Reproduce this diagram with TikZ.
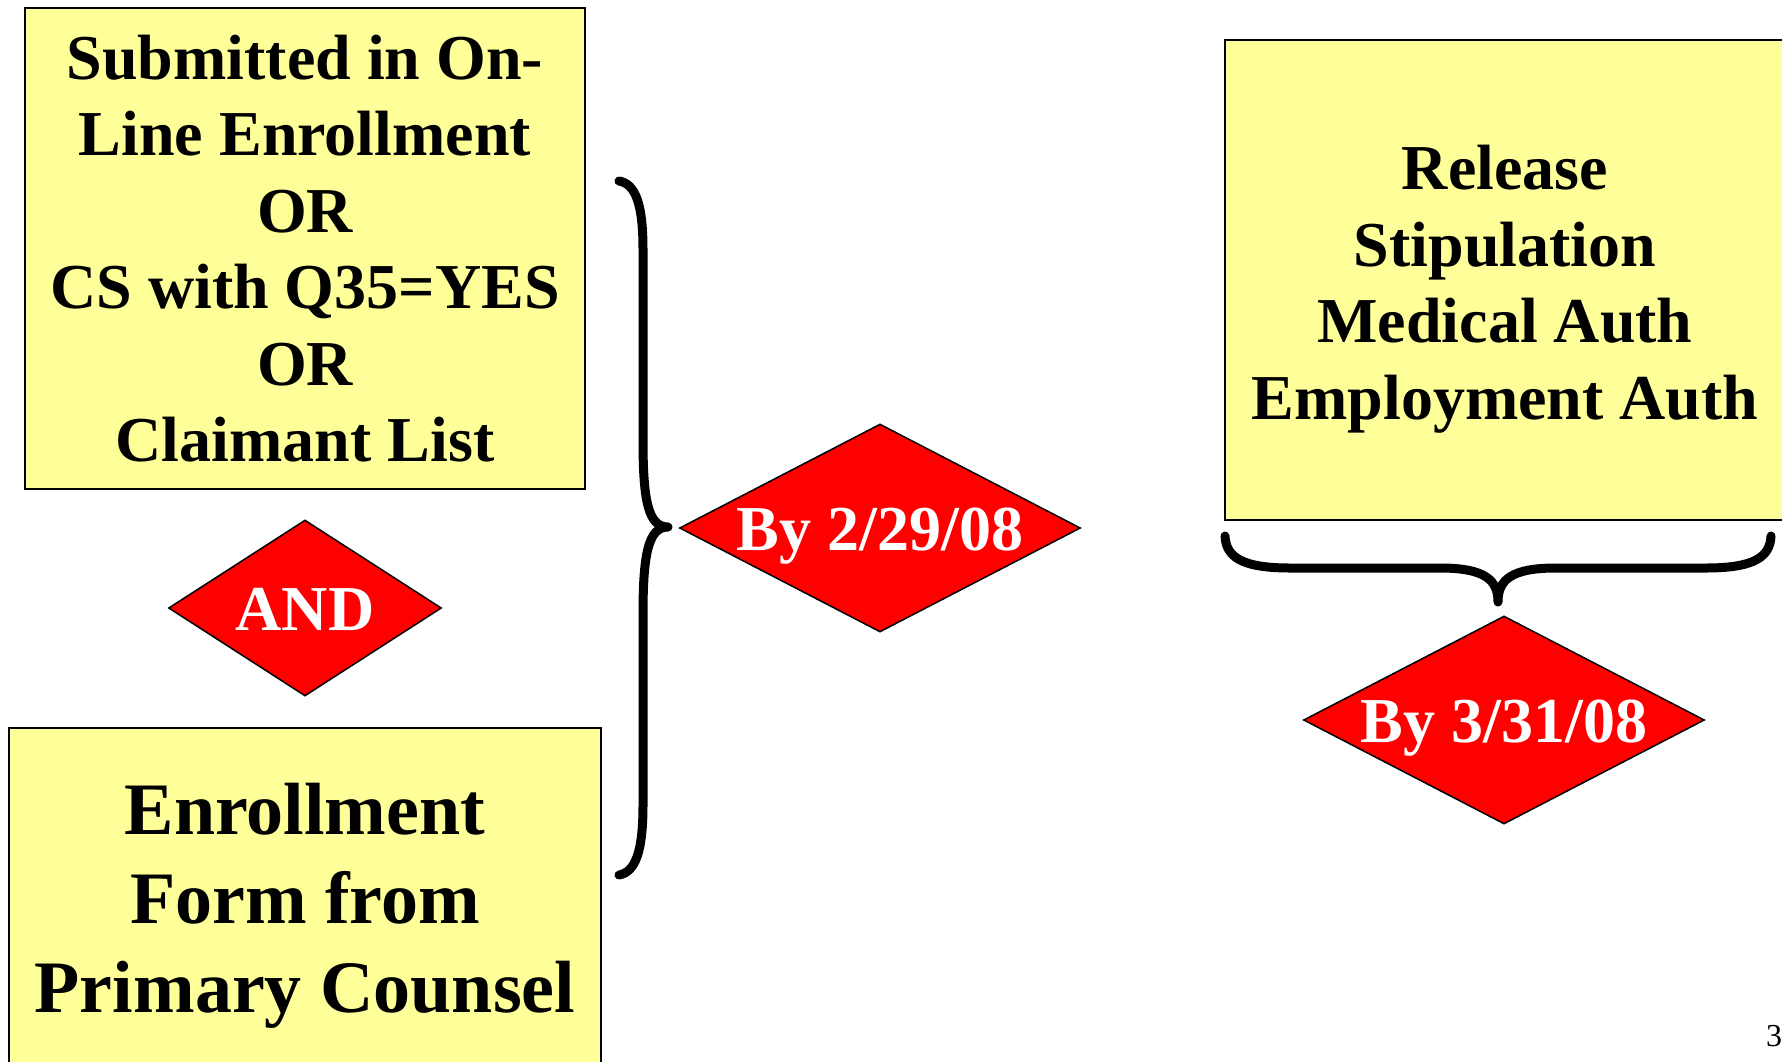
\documentclass[tikz,border=0pt]{standalone}
\usepackage{fontspec}
\setmainfont{Liberation Serif}
\usetikzlibrary{shapes.geometric}
\definecolor{boxyellow}{HTML}{FFFF99}
\definecolor{diamred}{HTML}{FF0000}
\begin{document}
\begin{tikzpicture}[x=1pt,y=-1pt,
  ybox/.style={draw=black, line width=2pt, fill=boxyellow, rectangle, inner sep=0pt},
  btext/.style={inner sep=0pt, align=center, font=\bfseries\fontsize{64}{76.5}\selectfont},
  diam/.style={draw=black, line width=1.5pt, fill=diamred, diamond, inner sep=0pt},
  dtext/.style={text=white, font=\bfseries\fontsize{64}{76.5}\selectfont, inner sep=0pt, text height=44pt, text depth=0pt},
  bracepath/.style={line width=9pt, line cap=round, line join=round}]
\clip (0,0) rectangle (1782,1061);
\fill[white] (0,0) rectangle (1782,1061);

% boxes
\node[ybox, minimum width=560pt, minimum height=481pt] (b1) at (305,248.5) {};
\node[btext] (t1) at (b1.center)
  {Submitted in On-\\Line Enrollment\\OR\\CS with Q35=YES\\OR\\Claimant List};
\node[ybox, minimum width=592pt, minimum height=342pt] (b2) at (305,899) {};
\node[btext, font=\bfseries\fontsize{74}{89}\selectfont] (t2) at ([yshift=-7pt]b2.center)
  {Enrollment\\Form from\\Primary Counsel};
\node[ybox, minimum width=560pt, minimum height=480pt] (b3) at (1505,280) {};
\node[btext] (t3) at ([yshift=-9pt]b3.center)
  {Release\\Stipulation\\Medical Auth\\Employment Auth};

% diamonds
\node[diam, minimum width=273pt, minimum height=176pt] (dand) at (305,608) {};
\node[dtext] (tand) at (dand.center) {AND};
\node[diam, minimum width=401pt, minimum height=208pt] (d1) at (880,528) {};
\node[dtext] (td1) at (d1.center) {By 2/29/08};
\node[diam, minimum width=401pt, minimum height=208pt] (d2) at (1504,720) {};
\node[dtext] (td2) at (d2.center) {By 3/31/08};

% vertical brace
\coordinate (vtip) at (668,527);
\draw[bracepath] (619,181) .. controls (636,184) and (643,205) .. (643,250)
  -- (643,440) .. controls (643,500) and (648,527) .. (vtip)
  .. controls (648,527) and (643,555) .. (643,615)
  -- (643,805) .. controls (643,850) and (636,872) .. (619,875);

% horizontal brace
\coordinate (htip) at (1498,602);
\draw[bracepath] (1225,536) .. controls (1226,556) and (1240,568) .. (1290,568)
  -- (1440,568) .. controls (1485,568) and (1498,580) .. (htip)
  .. controls (1498,580) and (1511,568) .. (1556,568)
  -- (1706,568) .. controls (1756,568) and (1770,556) .. (1771,536);

% page number
\node[anchor=west, inner sep=0pt, font=\fontsize{32}{36}\selectfont, text height=22pt, text depth=0pt] (pnum) at (1766,1035) {3};
\end{tikzpicture}
\end{document}
